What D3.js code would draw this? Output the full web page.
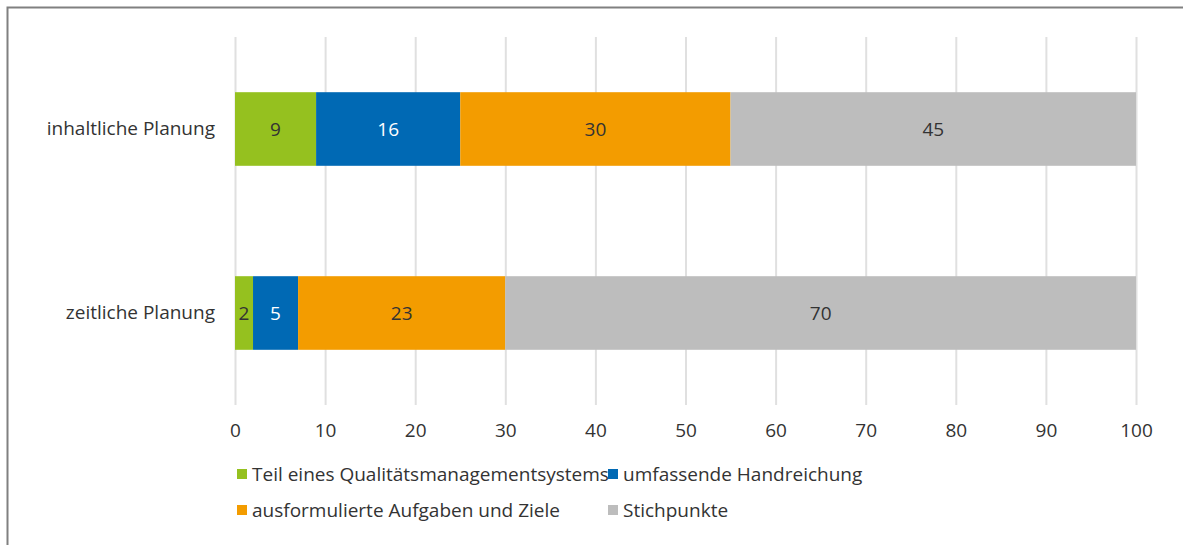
<!DOCTYPE html>
<html><head><meta charset="utf-8">
<script src="https://cdn.jsdelivr.net/npm/d3@7"></script>
<style>body{margin:0;background:#fff;} svg{display:block;font-family:"Open Sans",sans-serif;}</style>
</head><body><svg id="c" width="1183" height="545"></svg>
<script>
const categories = ["inhaltliche Planung", "zeitliche Planung"];
const seriesNames = ["Teil eines Qualitätsmanagementsystems", "umfassende Handreichung", "ausformulierte Aufgaben und Ziele", "Stichpunkte"];
const qm = [9, 2];
const handreichung = [16, 5];
const aufgaben = [30, 23];
const stichpunkte = [45, 70];
const xTicks = [0,10,20,30,40,50,60,70,80,90,100];
const colors = ["#95c11f", "#0069b4", "#f39c00", "#bdbdbd"];
const labelColors = ["#333", "#fff", "#333", "#333"];

const seriesValues = [qm, handreichung, aufgaben, stichpunkte];
const data = categories.map((c,i)=>{const o={cat:c}; seriesNames.forEach((s,j)=>o[s]=seriesValues[j][i]); return o;});
const stacked = d3.stack().keys(seriesNames)(data);
const FS = 19;

const svg = d3.select("#c");
svg.append("path").attr("d","M7.5,560V7.5H1200").attr("fill","none").attr("stroke","#808080").attr("stroke-width",2);

const x = d3.scaleLinear().domain([0,100]).range([235,1136]);
const y = d3.scaleBand().domain(categories).range([37,405]).paddingInner(0.6).paddingOuter(0.3);

svg.append("g").selectAll("line").data(xTicks).join("line")
  .attr("x1",d=>x(d)+0.5).attr("x2",d=>x(d)+0.5).attr("y1",37).attr("y2",405)
  .attr("stroke","#e0e0e0").attr("stroke-width",2);

const xAxis = d3.axisBottom(x).tickValues(xTicks).tickSize(0).tickPadding(0);
const ax = svg.append("g").attr("transform","translate(0,437)").call(xAxis);
ax.select(".domain").remove();
ax.selectAll("text").attr("font-size",FS).attr("fill","#333").attr("font-family","'Open Sans',sans-serif").attr("dy",0);

const yAxis = d3.axisLeft(y).tickSize(0).tickPadding(0);
const ay = svg.append("g").attr("transform","translate(215,0)").call(yAxis);
ay.select(".domain").remove();
ay.selectAll("text").attr("font-size",FS).attr("fill","#333").attr("font-family","'Open Sans',sans-serif");

const gs = svg.append("g").selectAll("g").data(stacked).join("g").attr("fill",(d,i)=>colors[i]);
gs.selectAll("rect").data(d=>d).join("rect")
  .attr("x",d=>x(d[0])).attr("width",d=>x(d[1])-x(d[0]))
  .attr("y",d=>y(d.data.cat)).attr("height",y.bandwidth());
gs.each(function(s,i){
  d3.select(this).selectAll("text").data(s).join("text")
    .attr("x",d=>(x(d[0])+x(d[1]))/2).attr("y",d=>y(d.data.cat)+y.bandwidth()/2)
    .attr("dy","0.35em").attr("text-anchor","middle").attr("font-size",FS)
    .attr("fill",labelColors[i]).text(d=>d[1]-d[0]);
});

const legPos = [[237,474],[608,474],[237,510],[608,510]];
const lg = svg.append("g").selectAll("g").data(seriesNames).join("g")
  .attr("transform",(d,i)=>`translate(${legPos[i][0]},${legPos[i][1]})`);
lg.append("rect").attr("x",0).attr("y",-5).attr("width",10).attr("height",10).attr("fill",(d,i)=>colors[i]);
lg.append("text").attr("x",15).attr("dy","0.35em").attr("font-size",FS).attr("fill","#333").text(d=>d);
</script></body></html>
